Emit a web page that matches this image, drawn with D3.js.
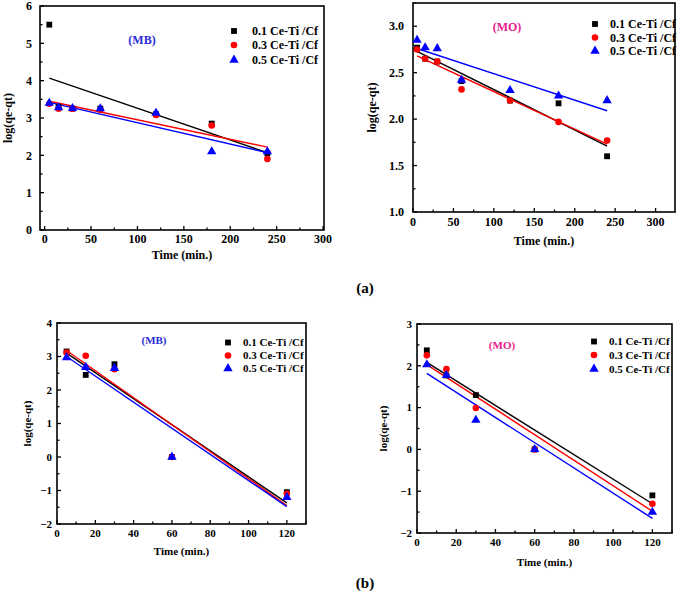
<!DOCTYPE html>
<html><head><meta charset="utf-8">
<script src="https://cdn.jsdelivr.net/npm/d3@7"></script>
<style>
html,body{margin:0;padding:0;background:#fff;}
</style></head>
<body><svg id="c" width="677" height="591" font-family="'Liberation Serif', 'Times New Roman', 'DejaVu Serif', serif" font-weight="bold"></svg>
<script>
// ---------- DATA ----------
const seriesNames = ["0.1 Ce-Ti /Cf", "0.3 Ce-Ti /Cf", "0.5 Ce-Ti /Cf"];
const timesLong = [5, 15, 30, 60, 120, 180, 240];
const timesShort = [5, 15, 30, 60, 120];

// (a) MB
const aMB_01 = [5.5, 3.3, 3.25, 3.25, 3.1, 2.85, 2.05];
const aMB_03 = [3.38, 3.25, 3.25, 3.22, 3.08, 2.8, 1.9];
const aMB_05 = [3.4, 3.28, 3.26, 3.25, 3.13, 2.1, 2.1];
const aMB_fit01 = [[5, 4.07], [240, 2.07]];
const aMB_fit03 = [[5, 3.45], [240, 2.22]];
const aMB_fit05 = [[5, 3.42], [240, 2.07]];

// (a) MO
const aMO_01 = [2.77, 2.65, 2.62, 2.41, 2.2, 2.17, 1.6];
const aMO_03 = [2.75, 2.65, 2.62, 2.32, 2.2, 1.97, 1.77];
const aMO_05 = [2.85, 2.77, 2.76, 2.42, 2.31, 2.25, 2.2];
const aMO_fit01 = [[5, 2.73], [240, 1.71]];
const aMO_fit03 = [[5, 2.68], [240, 1.73]];
const aMO_fit05 = [[5, 2.76], [240, 2.09]];

// (b) MB
const bMB_01 = [3.15, 2.45, 2.77, 0, -1.05];
const bMB_03 = [3.12, 3.02, 2.62, 0, -1.1];
const bMB_05 = [2.97, 2.68, 2.65, 0, -1.2];
const bMB_fit01 = [[5, 3.1], [120, -1.37]];
const bMB_fit03 = [[5, 3.18], [120, -1.45]];
const bMB_fit05 = [[5, 3.0], [120, -1.48]];

// (b) MO
const bMO_01 = [2.37, 1.77, 1.3, 0, -1.1];
const bMO_03 = [2.25, 1.92, 0.99, 0, -1.3];
const bMO_05 = [2.03, 1.77, 0.7, 0, -1.5];
const bMO_fit01 = [[5, 2.08], [120, -1.3]];
const bMO_fit03 = [[5, 2.03], [120, -1.48]];
const bMO_fit05 = [[5, 1.82], [120, -1.65]];

const xTicksLong = [0, 50, 100, 150, 200, 250, 300];
const xTicksShort = [0, 20, 40, 60, 80, 100, 120];
const yTicksA1 = [0, 1, 2, 3, 4, 5, 6];
const yTicksA2 = [1.0, 1.5, 2.0, 2.5, 3.0];
const yTicksB1 = [-2, -1, 0, 1, 2, 3, 4];
const yTicksB2 = [-2, -1, 0, 1, 2, 3];
const panelTags = ["(MB)", "(MO)", "(MB)", "(MO)"];
const figLabels = ["(a)", "(b)"];
const xTitle = "Time (min.)";
const yTitle = "log(qe-qt)";

// ---------- STYLE / LAYOUT ----------
const colors = ["#000000", "#ff0000", "#0000ff"];
const symbols = [d3.symbolSquare, d3.symbolCircle, d3.symbolTriangle];
const symSizes = [34, 34, 38];
const tagColors = {"(MB)": "#2a2ad8", "(MO)": "#e8198b"};

const panels = [
  {L:40, R:324, T:6, B:230, xd:[-5,301], yd:[0,6], xt:xTicksLong, xm:25, yt:yTicksA1, ym:0.5, yf:d3.format("d"),
   t:timesLong, s:[aMB_01,aMB_03,aMB_05], f:[aMB_fit01,aMB_fit03,aMB_fit05], tag:panelTags[0], tagX:142, tagY:44,
   legX:234, legTX:252, legY:[31,45,60], fs:12, ylOff:8, xlOff:13, xtOff:29, ytOff:28},
  {L:413, R:675, T:3, B:212, xd:[0,324], yd:[1.0,3.25], xt:xTicksLong, xm:25, yt:yTicksA2, ym:0.25, yf:d3.format(".1f"),
   t:timesLong, s:[aMO_01,aMO_03,aMO_05], f:[aMO_fit01,aMO_fit03,aMO_fit05], tag:panelTags[1], tagX:507, tagY:31,
   legX:595, legTX:610, legY:[24,37.5,51], fs:12, ylOff:9, xlOff:14, xtOff:33, ytOff:37},
  {L:57, R:306, T:323, B:524, xd:[0,130], yd:[-2,4], xt:xTicksShort, xm:10, yt:yTicksB1, ym:0.5, yf:d3.format("d"),
   t:timesShort, s:[bMB_01,bMB_03,bMB_05], f:[bMB_fit01,bMB_fit03,bMB_fit05], tag:panelTags[2], tagX:154, tagY:344,
   legX:228, legTX:243, legY:[342.5,355.5,368.5], fs:11, ylOff:5, xlOff:13, xtOff:31, ytOff:26},
  {L:417, R:672, T:324, B:533, xd:[0,130], yd:[-2,3], xt:xTicksShort, xm:10, yt:yTicksB2, ym:0.5, yf:d3.format("d"),
   t:timesShort, s:[bMO_01,bMO_03,bMO_05], f:[bMO_fit01,bMO_fit03,bMO_fit05], tag:panelTags[3], tagX:502, tagY:349,
   legX:594, legTX:609, legY:[341.5,355,369], fs:11, ylOff:5, xlOff:13, xtOff:33, ytOff:30}
];

const svg = d3.select("#c");

function drawPanel(p) {
  const g = svg.append("g");
  const x = d3.scaleLinear().domain(p.xd).range([p.L, p.R]);
  const y = d3.scaleLinear().domain(p.yd).range([p.B, p.T]);

  // minor + major ticks (inward)
  const xMinor = d3.range(p.xt[0], p.xd[1] + 1e-9, p.xm).filter(v => v >= p.xd[0]);
  const yMinor = d3.range(p.yd[0], p.yd[1] + 1e-9, p.ym);
  g.selectAll(null).data(xMinor).enter().append("line")
    .attr("x1", d => x(d)).attr("x2", d => x(d))
    .attr("y1", p.B).attr("y2", d => p.B - (p.xt.includes(d) ? 4 : 2.5))
    .attr("stroke", "#000").attr("stroke-width", 1.3);
  g.selectAll(null).data(yMinor).enter().append("line")
    .attr("y1", d => y(d)).attr("y2", d => y(d))
    .attr("x1", p.L).attr("x2", d => p.L + (p.yt.some(t => Math.abs(t - d) < 1e-9) ? 4 : 2.5))
    .attr("stroke", "#000").attr("stroke-width", 1.3);

  // frame
  g.append("rect").attr("x", p.L).attr("y", p.T).attr("width", p.R - p.L).attr("height", p.B - p.T)
    .attr("fill", "none").attr("stroke", "#000").attr("stroke-width", 1.6);

  // tick labels
  g.selectAll(null).data(p.xt).enter().append("text")
    .attr("x", d => x(d)).attr("y", p.B + p.xlOff).attr("text-anchor", "middle")
    .attr("font-size", p.fs).text(d => d);
  g.selectAll(null).data(p.yt).enter().append("text")
    .attr("x", p.L - p.ylOff).attr("y", d => y(d)).attr("dy", "0.35em").attr("text-anchor", "end")
    .attr("font-size", p.fs).text(p.yf);

  // axis titles
  g.append("text").attr("x", (p.L + p.R) / 2).attr("y", p.B + p.xtOff).attr("text-anchor", "middle")
    .attr("font-size", p.fs).text(xTitle);
  g.append("text").attr("transform", `translate(${p.L - p.ytOff},${(p.T + p.B) / 2}) rotate(-90)`)
    .attr("text-anchor", "middle").attr("font-size", p.fs).text(yTitle);

  // fit lines
  const line = d3.line().x(d => x(d[0])).y(d => y(d[1]));
  p.f.forEach((fit, i) => {
    g.append("path").attr("d", line(fit)).attr("fill", "none").attr("stroke", colors[i]).attr("stroke-width", 1.4);
  });

  // points
  p.s.forEach((vals, i) => {
    const sym = d3.symbol().type(symbols[i]).size(symSizes[i]);
    g.selectAll(null).data(vals.map((v, k) => [p.t[k], v])).enter().append("path")
      .attr("d", sym).attr("transform", d => `translate(${x(d[0])},${y(d[1])})`)
      .attr("fill", colors[i]);
  });

  // legend
  seriesNames.forEach((name, i) => {
    g.append("path").attr("d", d3.symbol().type(symbols[i]).size(symSizes[i])())
      .attr("transform", `translate(${p.legX},${p.legY[i]})`).attr("fill", colors[i]);
    g.append("text").attr("x", p.legTX).attr("y", p.legY[i]).attr("dy", "0.35em")
      .attr("font-size", p.fs).text(name);
  });

  // tag
  g.append("text").attr("x", p.tagX).attr("y", p.tagY).attr("text-anchor", "middle")
    .attr("font-size", p.fs).attr("fill", tagColors[p.tag]).text(p.tag);
}

panels.forEach(drawPanel);

svg.append("text").attr("x", 365).attr("y", 293).attr("text-anchor", "middle").attr("font-size", 15).text(figLabels[0]);
svg.append("text").attr("x", 365).attr("y", 588).attr("text-anchor", "middle").attr("font-size", 15).text(figLabels[1]);
</script></body></html>
